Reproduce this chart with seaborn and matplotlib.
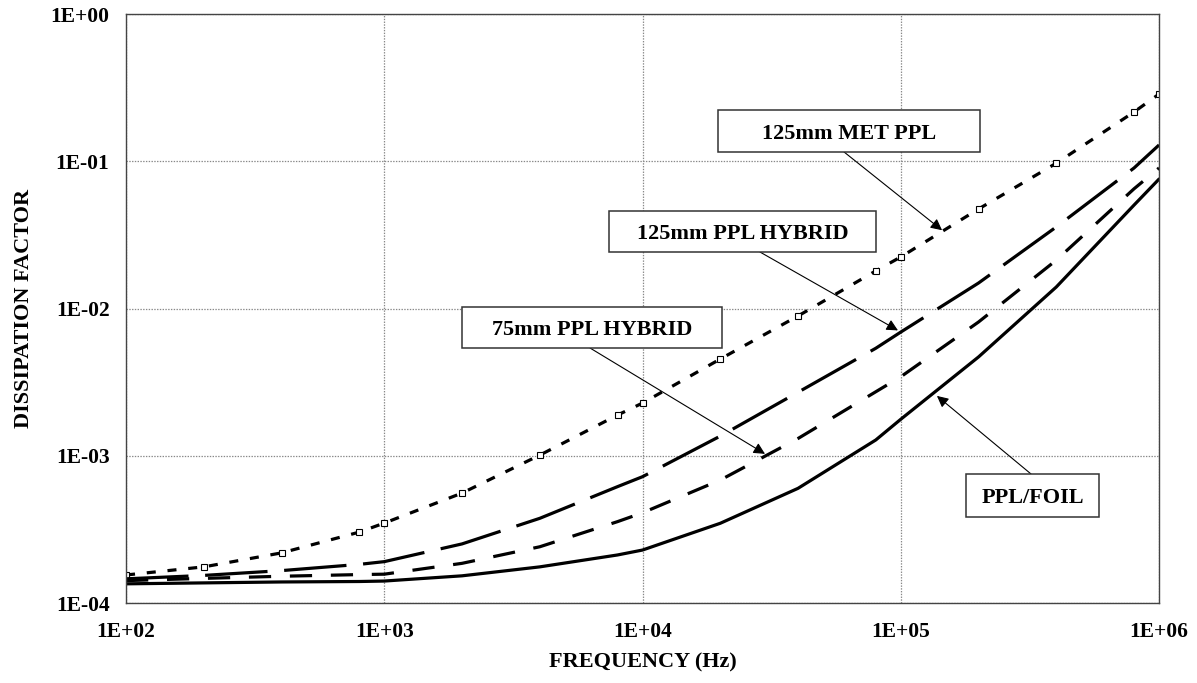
import numpy as np
import pandas as pd
import matplotlib
matplotlib.use("Agg")
import matplotlib.pyplot as plt
from matplotlib.patches import Rectangle
from matplotlib.ticker import FuncFormatter, LogLocator, NullLocator
import seaborn as sns

# ==================================================
# DATA
# ==================================================
freq = [1e2, 2e2, 4e2, 8e2, 1e3, 2e3, 4e3, 8e3, 1e4,
        2e4, 4e4, 8e4, 1e5, 2e5, 4e5, 8e5, 1e6]

met_ppl_125 = [1.55e-4, 1.76e-4, 2.19e-4, 3.03e-4, 3.49e-4, 5.58e-4, 1.01e-3, 1.89e-3, 2.28e-3,
               4.54e-3, 8.9e-3, 1.8e-2, 2.24e-2, 4.74e-2, 9.7e-2, 0.216, 0.286]
hybrid_125 = [1.46e-4, 1.54e-4, 1.66e-4, 1.83e-4, 1.91e-4, 2.52e-4, 3.76e-4, 6.17e-4, 7.21e-4,
              1.36e-3, 2.70e-3, 5.37e-3, 6.92e-3, 1.49e-2, 3.58e-2, 0.090, 0.129]
hybrid_75 = [1.42e-4, 1.47e-4, 1.52e-4, 1.56e-4, 1.57e-4, 1.86e-4, 2.41e-4, 3.57e-4, 4.10e-4,
             6.84e-4, 1.31e-3, 2.72e-3, 3.44e-3, 8.1e-3, 2.13e-2, 6.5e-2, 0.090]
ppl_foil = [1.35e-4, 1.37e-4, 1.39e-4, 1.40e-4, 1.41e-4, 1.53e-4, 1.76e-4, 2.12e-4, 2.29e-4,
            3.48e-4, 6.01e-4, 1.28e-3, 1.77e-3, 4.69e-3, 1.40e-2, 5.04e-2, 0.0757]

labels = ["125mm MET PPL", "125mm PPL HYBRID", "75mm PPL HYBRID", "PPL/FOIL"]
series = [met_ppl_125, hybrid_125, hybrid_75, ppl_foil]

# callouts: arrow tip (freq, DF), box (x0, x1, y0, y1) and arrow start, both in axes fraction
tips = [(1.445e5, 3.4e-2), (9.75e4, 7.1e-3), (2.98e4, 1.03e-3), (1.38e5, 2.55e-3)]
boxes = [(0.5731, 0.8267, 0.7657, 0.8370),
         (0.4676, 0.7260, 0.5959, 0.6655),
         (0.3253, 0.5770, 0.4329, 0.5025),
         (0.8132, 0.9419, 0.1460, 0.2190)]
starts = [(0.6951, 0.7657), (0.6137, 0.5959), (0.4492, 0.4329), (0.8761, 0.2190)]

# ==================================================
# STYLE
# ==================================================
sns.set_style("white")
plt.rcParams["font.family"] = ["Liberation Serif", "DejaVu Serif"]
plt.rcParams["font.weight"] = "bold"
plt.rcParams["text.color"] = "black"
plt.rcParams["axes.labelcolor"] = "black"
plt.rcParams["lines.scale_dashes"] = False

styles = [
    dict(linestyle=(0, (6.5, 8.5)), marker="s", markersize=5,
         markerfacecolor="white", markeredgecolor="black", markeredgewidth=0.8),
    dict(linestyle=(0, (45, 12))),
    dict(linestyle=(0, (16, 13.5))),
    dict(linestyle="-"),
]

fig = plt.figure(figsize=(11.97, 6.83), dpi=100)
ax = fig.add_axes([0.1053, 0.1171, 0.8630, 0.8624])

for vals, lab, st in zip(series, labels, styles):
    df = pd.DataFrame({"freq": freq, "df": vals})
    sns.lineplot(data=df, x="freq", y="df", ax=ax, color="black",
                 linewidth=2.3, label=lab, **st)

ax.set_xscale("log")
ax.set_yscale("log")
ax.set_xlim(1e2, 1e6)
ax.set_ylim(1e-4, 1e0)

fmt = FuncFormatter(lambda v, p: f"{v:.0E}")
ax.xaxis.set_major_locator(LogLocator(base=10, numticks=10))
ax.yaxis.set_major_locator(LogLocator(base=10, numticks=10))
ax.xaxis.set_minor_locator(NullLocator())
ax.yaxis.set_minor_locator(NullLocator())
ax.xaxis.set_major_formatter(fmt)
ax.yaxis.set_major_formatter(fmt)

ax.grid(True, which="major", color="#888888", linestyle=(0, (1, 1)), linewidth=0.9)
ax.tick_params(axis="both", which="major", direction="in", length=5,
               width=1, color="#444444", labelsize=15.5, labelcolor="black")
ax.tick_params(axis="x", pad=14)
ax.tick_params(axis="y", pad=12)
for sp in ax.spines.values():
    sp.set_color("#444444")
    sp.set_linewidth(1.0)

ax.set_xlabel("FREQUENCY (Hz)", fontsize=16, fontweight="bold", labelpad=7)
ax.set_ylabel("DISSIPATION FACTOR", fontsize=16, fontweight="bold", labelpad=12)
ax.get_legend().remove()

# ==================================================
# CALLOUT LABELS
# ==================================================
for lab, tip, (x0, x1, y0, y1), st in zip(labels, tips, boxes, starts):
    ax.add_patch(Rectangle((x0, y0), x1 - x0, y1 - y0, transform=ax.transAxes,
                           fc="white", ec="#333333", lw=1.1, zorder=5))
    ax.text((x0 + x1) / 2, (y0 + y1) / 2, lab, transform=ax.transAxes,
            ha="center", va="center_baseline", fontsize=16, fontweight="bold", zorder=6)
    ax.annotate("", xy=tip, xycoords="data", xytext=st, textcoords="axes fraction",
                arrowprops=dict(arrowstyle="-|>", color="black", lw=0.8,
                                mutation_scale=17, shrinkA=0, shrinkB=0), zorder=4)

fig.savefig("out.png", dpi=100)
